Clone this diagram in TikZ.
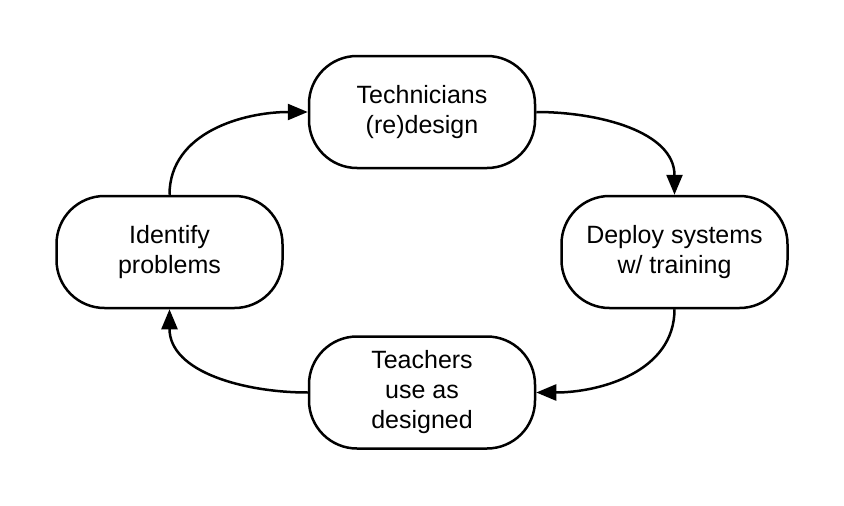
\documentclass[tikz,border=0pt]{standalone}
\usepackage{fontspec}
\setmainfont{Liberation Sans}
\usetikzlibrary{arrows.meta}
\begin{document}
\begin{tikzpicture}[x=1pt,y=-1pt,
  stagebox/.style={draw=black, line width=2.5pt, rounded corners=48pt, fill=white,
    minimum width=226pt, minimum height=112pt, align=center, inner sep=0pt,
    font=\fontsize{25pt}{30pt}\selectfont},
  flow/.style={line width=2.5pt, -{Triangle[length=20pt,width=16pt]}}]
\useasboundingbox (0,0) rectangle (844,506);
\node[stagebox] (top) at (422,112) {Technicians\\(re)design};
\node[stagebox] (left) at (169.5,252) {Identify\\problems};
\node[stagebox] (right) at (674.5,252) {Deploy systems\\w/ training};
\node[stagebox] (bottom) at (422,392.5) {Teachers\\use as\\designed};
\draw[flow] (left.north) to[out=90,in=180] (top.west);
\draw[flow] (top.east) to[out=0,in=90] (right.north);
\draw[flow] (right.south) to[out=-90,in=0] (bottom.east);
\draw[flow] (bottom.west) to[out=180,in=-90] (left.south);
\end{tikzpicture}
\end{document}
